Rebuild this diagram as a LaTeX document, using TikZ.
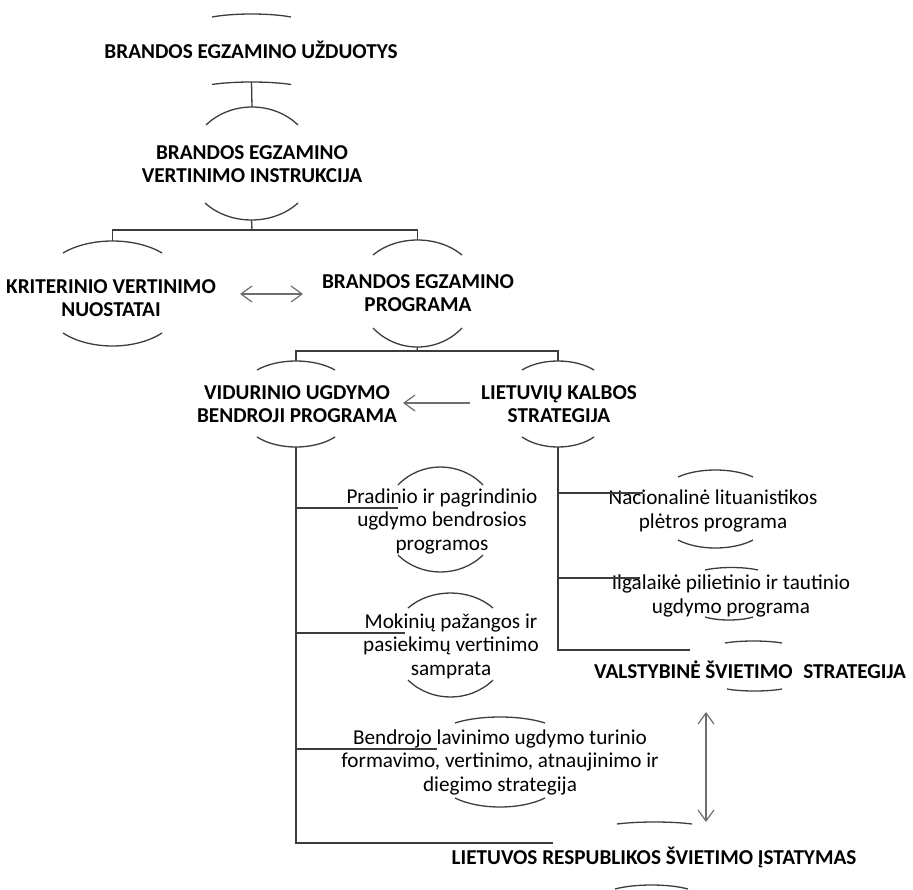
\documentclass[tikz,border=0pt]{standalone}
\usepackage{fontspec}
\setmainfont{Carlito}
\usetikzlibrary{arrows.meta}
\definecolor{linegray}{HTML}{3C3C3C}
\definecolor{arrowgray}{HTML}{6E6E6E}
\tikzset{
  treeline/.style={draw=linegray, line width=1.3pt},
  arcline/.style={draw=linegray, line width=1.3pt},
  boldbox/.style={font=\bfseries\fontsize{21.2}{23.5}\selectfont, align=center, inner sep=0pt, text=black},
  plainbox/.style={font=\fontsize{21.2}{23.5}\selectfont, align=center, inner sep=0pt, text=black},
  grayarrow/.style={draw=arrowgray, line width=1.2pt},
  barb/.tip={Straight Barb[length=11pt,width=16pt,line width=1.2pt]}
}
\newcommand\hoodarc[5]{%
  \draw[arcline] (#2,#4) .. controls ({#2+(#3-#2)*0.27},{#4+(#5-#4)*1.3333}) and ({#3-(#3-#2)*0.27},{#4+(#5-#4)*1.3333}) .. (#3,#4);
  \coordinate (#1) at ({(#2+#3)/2},#5);
}
\begin{document}
\begin{tikzpicture}[x=1pt,y=-1pt]
\useasboundingbox (0,0) rectangle (913,889);

% text nodes
\node[boldbox] (n1) at (251,50) {BRANDOS EGZAMINO UŽDUOTYS};
\node[boldbox] (n2) at (252,164) {BRANDOS EGZAMINO\\VERTINIMO INSTRUKCIJA};
\node[boldbox] (n3) at (111,298) {KRITERINIO VERTINIMO\\NUOSTATAI};
\node[boldbox] (n4) at (418,293) {BRANDOS EGZAMINO\\PROGRAMA};
\node[boldbox] (n5) at (297,404) {VIDURINIO UGDYMO\\BENDROJI PROGRAMA};
\node[boldbox] (n6) at (559,404) {LIETUVIŲ KALBOS\\STRATEGIJA};
\node[plainbox] (n7) at (442,521) {Pradinio ir pagrindinio\\ugdymo bendrosios\\programos};
\node[plainbox] (n8) at (451,646) {Mokinių pažangos ir\\pasiekimų vertinimo\\samprata};
\node[plainbox] (n9) at (500,762) {Bendrojo lavinimo ugdymo turinio\\formavimo, vertinimo, atnaujinimo ir\\diegimo strategija};
\node[plainbox] (n10) at (713,511) {Nacionalinė lituanistikos\\plėtros programa};
\node[plainbox] (n11) at (731,596) {Ilgalaikė pilietinio ir tautinio\\ugdymo programa};
\node[boldbox] (n12) at (750,670) {VALSTYBINĖ ŠVIETIMO\hspace{0.5em}STRATEGIJA};
\node[boldbox] (n13) at (654,857) {LIETUVOS RESPUBLIKOS ŠVIETIMO ĮSTATYMAS};

% arcs (name, x1, x2, y of ends, y of apex)
\hoodarc{n1t}{212}{291}{17}{14}
\hoodarc{n1b}{212}{291}{84.5}{82}
\hoodarc{n2t}{206}{298}{125}{107}
\hoodarc{n2b}{205}{298}{203}{220}
\hoodarc{n3t}{63}{162}{253}{241}
\hoodarc{n3b}{63}{162}{333}{346}
\hoodarc{n4t}{373}{462}{255}{240}
\hoodarc{n4b}{373}{462}{328}{347}
\hoodarc{n5t}{257}{335}{370}{361}
\hoodarc{n5b}{257}{335}{437}{447}
\hoodarc{n6t}{522}{594}{370}{361}
\hoodarc{n6b}{522}{594}{437}{447}
\hoodarc{n7t}{398}{483}{485}{467}
\hoodarc{n7b}{398}{483}{555}{572}
\hoodarc{n8t}{408}{493}{608}{593}
\hoodarc{n8b}{408}{493}{680}{697}
\hoodarc{n9t}{455}{545}{723}{717}
\hoodarc{n9b}{455}{545}{798}{807}
\hoodarc{n10t}{678}{753}{477}{470}
\hoodarc{n10b}{678}{753}{540}{548}
\hoodarc{n11t}{705}{758}{570}{567.5}
\hoodarc{n11b}{705}{753}{617}{620}
\hoodarc{n12t}{725}{782}{643}{641}
\hoodarc{n12b}{727}{782}{689}{691}
\hoodarc{n13t}{617}{692}{824}{822}
\hoodarc{n13b}{615}{688}{889}{885}

% junctions and branch ends
\coordinate (j1) at (252,230);
\coordinate (j2) at (417,351);
\coordinate (e7) at (398,508);
\coordinate (e8) at (405,633);
\coordinate (e9) at (437,749);
\coordinate (e13) at (553,843);
\coordinate (e10) at (643,493);
\coordinate (e11) at (640,578);
\coordinate (e12) at (690,650);

% tree connectors
\draw[treeline] (n1b) -- (n2t);
\draw[treeline] (n2b) -- (j1);
\draw[treeline] (n3t) |- (j1) -| (n4t);
\draw[treeline] (n4b) -- (j2);
\draw[treeline] (n5t) |- (j2) -| (n6t);
\draw[treeline] (n5b) |- (e13);
\draw[treeline] (e7) -- (e7 -| n5b);
\draw[treeline] (e8) -- (e8 -| n5b);
\draw[treeline] (e9) -- (e9 -| n5b);
\draw[treeline] (n6b) |- (e12);
\draw[treeline] (e10) -- (e10 -| n6b);
\draw[treeline] (e11) -- (e11 -| n6b);

% gray arrows
\coordinate (a3) at (240,294);
\coordinate (a4) at (303,294);
\draw[grayarrow, barb-barb] (a3) -- (a4);
\coordinate (a6) at (470,403);
\coordinate (a5) at (403,403);
\draw[grayarrow, -barb] (a6) -- (a5);
\coordinate (a12) at (706,712);
\coordinate (a13) at (706,822);
\draw[grayarrow, barb-barb] (a12) -- (a13);
\end{tikzpicture}
\end{document}
